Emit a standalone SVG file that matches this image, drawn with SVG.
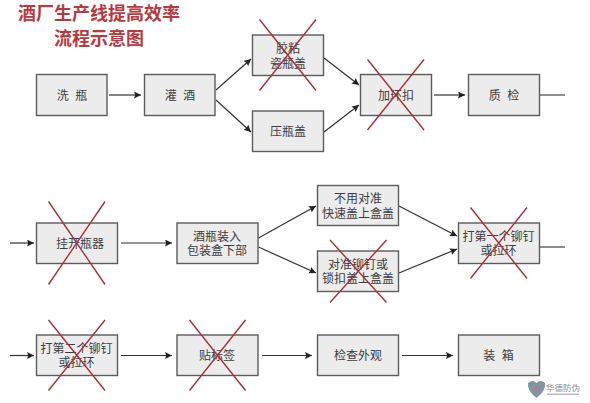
<svg xmlns="http://www.w3.org/2000/svg" width="590" height="403" viewBox="0 0 590 403">
<style>
text{font-family:"Noto Sans CJK SC","Liberation Sans",sans-serif;text-anchor:middle}
.b{fill:#ececec;stroke:#5c5c5c;stroke-width:1.4}
.t{font-size:12px;fill:#3c3c3c}
.w{word-spacing:4px}
.h{font-size:18px;font-weight:700;fill:#b8393f}
.c{stroke:#333;stroke-width:1.2;fill:none;marker-end:url(#a)}
.p{stroke:#444;stroke-width:1.2;fill:none}
.x{stroke:#a83238;stroke-width:1.4;fill:none}
</style>
<defs><marker id="a" markerUnits="userSpaceOnUse" markerWidth="9" markerHeight="8" refX="7" refY="3.500" orient="auto"><path d="M0 0L7 3.500L0 7L1.200 3.500Z" fill="#222"/></marker></defs>
<rect width="590" height="403" fill="#fff"/>
<g id="title"><text class="h" x="99" y="19.500">酒厂生产线提高效率</text><text class="h" x="99" y="44.500">流程示意图</text></g>
<g id="connectors">
<path class="c" d="M109 95H141"/><path class="c" d="M216 90L251 59"/><path class="c" d="M216 100L251 132"/>
<path class="c" d="M324 58L359 85"/><path class="c" d="M324 132L359 105"/><path class="c" d="M434 95H465"/><path class="p" d="M540 95H565"/>
<path class="c" d="M10 243H34"/><path class="c" d="M121 243H172"/><path class="c" d="M258.500 238L316 206"/><path class="c" d="M258.500 247L316 273"/>
<path class="c" d="M399 206L457 236"/><path class="c" d="M399 273L457 249"/><path class="p" d="M540 247H565"/>
<path class="c" d="M10 355.500H34"/><path class="c" d="M121 355.500H172"/><path class="c" d="M262 355.500H312"/><path class="c" d="M402 355.500H453"/>
</g>
<g id="n1"><rect class="b" x="36.500" y="74.500" width="70.500" height="41"/><text class="t w" x="72" y="99.500">洗 瓶</text></g>
<g id="n2"><rect class="b" x="144.500" y="74.500" width="70.500" height="41"/><text class="t w" x="180" y="99.500">灌 酒</text></g>
<g id="n3"><rect class="b" x="252.500" y="35" width="71" height="40.500"/><text class="t" x="288" y="53">胶粘</text><text class="t" x="288" y="67.500">瓷瓶盖</text><path class="x" d="M259.500 19.500L316 90.500M316 19.500L259.500 90.500"/></g>
<g id="n4"><rect class="b" x="252.500" y="111" width="71" height="40.500"/><text class="t" x="288" y="136">压瓶盖</text></g>
<g id="n5"><rect class="b" x="360.500" y="74.500" width="71" height="41"/><text class="t" x="396" y="99.500">加环扣</text><path class="x" d="M367.500 59.500L424 130M424 59.500L367.500 130"/></g>
<g id="n6"><rect class="b" x="468.500" y="74.500" width="71" height="41"/><text class="t w" x="504" y="99.500">质 检</text></g>
<g id="n7"><rect class="b" x="36.500" y="223" width="81" height="40.500"/><text class="t" x="80" y="247.500">挂开瓶器</text><path class="x" d="M48.500 201.500L105 284.500M105 201.500L48.500 284.500"/></g>
<g id="n8"><rect class="b" x="177" y="223" width="81" height="40.500"/><text class="t" x="217" y="240.500">酒瓶装入</text><text class="t" x="217" y="255">包装盒下部</text></g>
<g id="n9"><rect class="b" x="317.500" y="185.500" width="81" height="40"/><text class="t" x="358" y="203">不用对准</text><text class="t" x="358" y="218">快速盖上盒盖</text></g>
<g id="n10"><rect class="b" x="317.500" y="251" width="81" height="40.500"/><text class="t" x="358" y="268.500">对准铆钉或</text><text class="t" x="358" y="283">锁扣盖上盒盖</text><path class="x" d="M330 240L386.500 302.500M386.500 240L330 302.500"/></g>
<g id="n11"><rect class="b" x="458.500" y="223" width="81" height="40.500"/><text class="t" x="498.500" y="240.500">打第一个铆钉</text><text class="t" x="498.500" y="255">或拉环</text><path class="x" d="M470.500 207.500L527 278.500M527 207.500L470.500 278.500"/></g>
<g id="n12"><rect class="b" x="36.500" y="335" width="81" height="40.500"/><text class="t" x="76.500" y="352.500">打第二个铆钉</text><text class="t" x="76.500" y="367">或拉环</text><path class="x" d="M48.500 320L105 390.500M105 320L48.500 390.500"/></g>
<g id="n13"><rect class="b" x="177" y="335" width="81" height="40.500"/><text class="t" x="217" y="360">贴标签</text><path class="x" d="M189.500 320L245.500 390.500M245.500 320L189.500 390.500"/></g>
<g id="n14"><rect class="b" x="317.500" y="335" width="81" height="40.500"/><text class="t" x="358" y="360">检查外观</text></g>
<g id="n15"><rect class="b" x="458.500" y="335" width="81" height="40.500"/><text class="t w" x="498.500" y="360">装 箱</text></g>
<g id="watermark"><path d="M528 383Q533 379 536.500 383Q540 379 545 383Q546 391 536.500 398Q527 391 528 383Z" fill="#7d97a5"/><path d="M532 385L536.500 388L541 385L536.500 393Z" fill="#b5788c"/><text x="563" y="391" style="font-size:8.500px;fill:#8c8c8c">华德防伪</text><rect x="547" y="393.500" width="32" height="1.500" fill="#bbb"/></g>
</svg>
